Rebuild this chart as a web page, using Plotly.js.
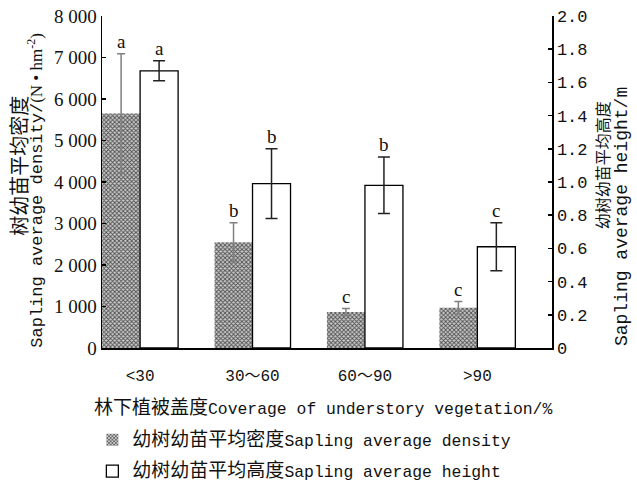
<!DOCTYPE html>
<html>
<head>
<meta charset="utf-8">
<script src="https://cdn.plot.ly/plotly-3.0.1.min.js"></script>
<style>html,body{margin:0;padding:0;background:#fff;}#chart{width:637px;height:486px;}</style>
</head>
<body>
<div id="chart"></div>
<script>
// ---- data ----
const categories = ['<30', '30～60', '60～90', '>90'];
const densityMean = [5650, 2550, 870, 970];      // N·hm^-2
const densityErr  = [1440, 470, 80, 150];
const densityLetters = ['a', 'b', 'c', 'c'];
const heightMean = [1.67, 0.99, 0.98, 0.61];     // m
const heightErr  = [0.06, 0.21, 0.17, 0.145];
const heightLetters = ['a', 'b', 'b', 'c'];
const densityTicks = [0, 1000, 2000, 3000, 4000, 5000, 6000, 7000, 8000];
const densityTickText = ['0', '1 000', '2 000', '3 000', '4 000', '5 000', '6 000', '7 000', '8 000'];
const heightTicks = [0, 0.2, 0.4, 0.6, 0.8, 1.0, 1.2, 1.4, 1.6, 1.8, 2.0];
const heightTickText = ['0', '0.2', '0.4', '0.6', '0.8', '1.0', '1.2', '1.4', '1.6', '1.8', '2.0'];

// ---- styling ----
const BW = 0.338;
const MONO = 'Liberation Mono, Noto Sans CJK SC, monospace';
const CJK = 'Noto Sans CJK SC, sans-serif';
const SERIF = 'Liberation Serif, DejaVu Serif, serif';
const xIdx = categories.map((c, i) => i);

const traceDensity = {
  type: 'bar', x: xIdx, y: densityMean, yaxis: 'y', xaxis: 'x',
  width: BW, offset: -BW,
  name: '<span style="font-family:Noto Sans CJK SC;font-size:19px">幼树幼苗平均密度</span>Sapling average density',
  legend: 'legend',
  marker: {
    color: '#909090',
    line: {width: 0},
    pattern: {shape: 'x', size: 3, solidity: 0.5, fgcolor: '#4e4e4e', bgcolor: '#cdcdcd', fillmode: 'replace'}
  },
  error_y: {type: 'data', array: densityErr, visible: true, color: '#808080', thickness: 1.5, width: 4},
  hoverinfo: 'skip'
};
const traceHeight = {
  type: 'bar', x: xIdx, y: heightMean, yaxis: 'y2', xaxis: 'x',
  width: BW, offset: 0,
  name: '<span style="font-family:Noto Sans CJK SC;font-size:19px">幼树幼苗平均高度</span>Sapling average height',
  legend: 'legend2',
  marker: {color: '#ffffff', line: {color: '#000000', width: 1.3}},
  error_y: {type: 'data', array: heightErr, visible: true, color: '#222222', thickness: 1.5, width: 6},
  hoverinfo: 'skip'
};

const annotations = [];
densityMean.forEach((v, i) => {
  annotations.push({x: i - BW / 2, y: v + densityErr[i], xref: 'x', yref: 'y', text: densityLetters[i],
    showarrow: false, yanchor: 'bottom', yshift: 0, font: {family: SERIF, size: 19, color: '#111'}});
});
heightMean.forEach((v, i) => {
  annotations.push({x: i + BW / 2, y: v + heightErr[i], xref: 'x', yref: 'y2', text: heightLetters[i],
    showarrow: false, yanchor: 'bottom', yshift: 0, font: {family: SERIF, size: 19, color: '#111'}});
});
// axis titles
annotations.push({xref: 'paper', yref: 'paper', x: -0.186, y: 0.55, xanchor: 'center', yanchor: 'middle',
  textangle: -90, showarrow: false, text: '树幼苗平均密度', font: {family: CJK, size: 20, color: '#111'}});
annotations.push({xref: 'paper', yref: 'paper', x: -0.148, y: 0.475, xanchor: 'center', yanchor: 'middle',
  textangle: -90, showarrow: false,
  text: 'Sapling average density/<span style="font-family:Liberation Serif">(N • hm<sup>-2</sup>)</span>',
  font: {family: MONO, size: 17, color: '#111'}});
annotations.push({xref: 'paper', yref: 'paper', x: 1.111, y: 0.55, xanchor: 'center', yanchor: 'middle',
  textangle: -90, showarrow: false, text: '幼树幼苗平均高度', font: {family: CJK, size: 16, color: '#111'}});
annotations.push({xref: 'paper', yref: 'paper', x: 1.156, y: 0.395, xanchor: 'center', yanchor: 'middle',
  textangle: -90, showarrow: false, text: 'Sapling average height/m', font: {family: MONO, size: 18, color: '#111'}});
annotations.push({xref: 'paper', yref: 'paper', x: 0.491, y: -0.172, xanchor: 'center', yanchor: 'middle',
  showarrow: false,
  text: '<span style="font-family:Noto Sans CJK SC;font-size:19px">林下植被盖度</span>Coverage of understory vegetation/%',
  font: {family: MONO, size: 16.4, color: '#111'}});

const layout = {
  width: 637, height: 486,
  margin: {l: 102, r: 85, t: 16, b: 138, pad: 0, autoexpand: false},
  paper_bgcolor: '#ffffff', plot_bgcolor: '#ffffff',
  showlegend: true,
  xaxis: {
    range: [-BW - 0.001, 3.664], tickmode: 'array', tickvals: xIdx, ticktext: categories,
    showline: true, linecolor: '#000', linewidth: 1.5, ticks: '', showgrid: false, zeroline: false,
    ticklabelstandoff: 12, automargin: false,
    tickfont: {family: MONO, size: 16, color: '#111'}
  },
  yaxis: {
    range: [0, 8000], tickmode: 'array', tickvals: densityTicks, ticktext: densityTickText,
    showline: true, linecolor: '#000', linewidth: 1.5, ticks: 'inside', ticklen: 4, tickwidth: 1.5, tickcolor: '#000',
    showgrid: false, zeroline: false, automargin: false,
    tickfont: {family: SERIF, size: 19, color: '#111'}
  },
  yaxis2: {
    range: [0, 2], overlaying: 'y', side: 'right', tickmode: 'array', tickvals: heightTicks, ticktext: heightTickText,
    showline: true, linecolor: '#000', linewidth: 1.5, ticks: 'inside', ticklen: 4, tickwidth: 1.5, tickcolor: '#000',
    showgrid: false, zeroline: false, automargin: false,
    tickfont: {family: MONO, size: 17, color: '#111'}
  },
  legend: {xref: 'container', yref: 'container', x: 0.145, y: 0.0947, xanchor: 'left', yanchor: 'middle',
    bgcolor: 'rgba(0,0,0,0)', font: {family: MONO, size: 16.4, color: '#111'}},
  legend2: {xref: 'container', yref: 'container', x: 0.145, y: 0.03, xanchor: 'left', yanchor: 'middle',
    bgcolor: 'rgba(0,0,0,0)', font: {family: MONO, size: 16.4, color: '#111'}},
  annotations: annotations
};

Plotly.newPlot('chart', [traceDensity, traceHeight], layout, {displayModeBar: false, staticPlot: true});
</script>
</body>
</html>
